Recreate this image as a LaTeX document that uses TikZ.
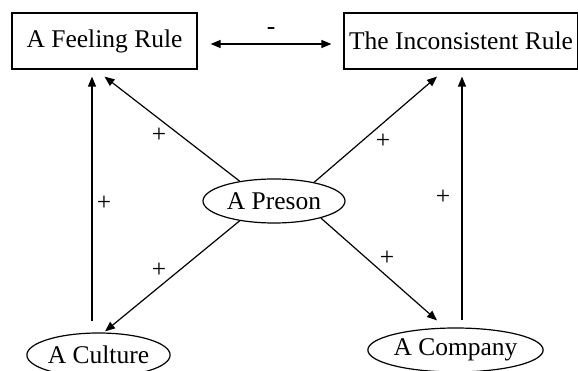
\documentclass[tikz,border=0pt]{standalone}
\usepackage{fontspec}
\setmainfont{Liberation Serif}
\usetikzlibrary{shapes.geometric,arrows.meta,calc}
\begin{document}
\begin{tikzpicture}[x=1pt,y=-1pt,
  every node/.style={font=\fontsize{25.5}{30}\selectfont, inner sep=0pt},
  rulebox/.style={draw, line width=1.2pt, rectangle, minimum height=56pt},
  oval/.style={draw, line width=1.2pt, ellipse, minimum height=44pt},
  arr/.style={line width=1.2pt, -{Triangle[length=10pt,width=8pt]}},
  sign/.style={}]
\useasboundingbox (0,0) rectangle (578,371);
\node[rulebox, minimum width=185pt] (feel) at (104.5,41) {A Feeling Rule};
\node[rulebox, minimum width=234pt] (incons) at (461,41) {The Inconsistent Rule};
\node[oval, minimum width=142pt] (preson) at (274,201) {A Preson};
\node[oval, minimum width=135pt] (culture) at (98.5,355) {A Culture};
\node[oval, minimum width=161pt] (company) at (455.5,350) {A Company};
% bidirectional
\draw[line width=1.2pt, {Triangle[length=10pt,width=8pt]}-{Triangle[length=10pt,width=8pt]}]
  ([xshift=13pt,yshift=-3pt]feel.east) -- ([xshift=-12pt,yshift=-3pt]incons.west)
  node[midway, above=9pt, sign] (minus) {-};
% person arrows
\draw[arr] (preson.150) -- ([yshift=-7pt]feel.south);
\draw[arr] (preson.25) -- ([xshift=-24pt,yshift=-7pt]incons.south);
\draw[arr] (preson.210) -- ([xshift=6.5pt,yshift=1pt]culture.north);
\draw[arr] (preson.-20) -- ([xshift=-18.5pt,yshift=7pt]company.north);
% vertical arrows
\draw[arr] ([xshift=-6.5pt,yshift=11pt]culture.north) -- ([xshift=-12.5pt,yshift=-7pt]feel.south);
\draw[arr] ([xshift=6.5pt,yshift=7pt]company.north) -- ([xshift=1pt,yshift=-7pt]incons.south);
% signs
\node[sign] (p1) at (159,135) {+};
\node[sign] (p2) at (383,141) {+};
\node[sign] (p3) at (104,203) {+};
\node[sign] (p4) at (443,197) {+};
\node[sign] (p5) at (159,270) {+};
\node[sign] (p6) at (387,258) {+};
\end{tikzpicture}
\end{document}
